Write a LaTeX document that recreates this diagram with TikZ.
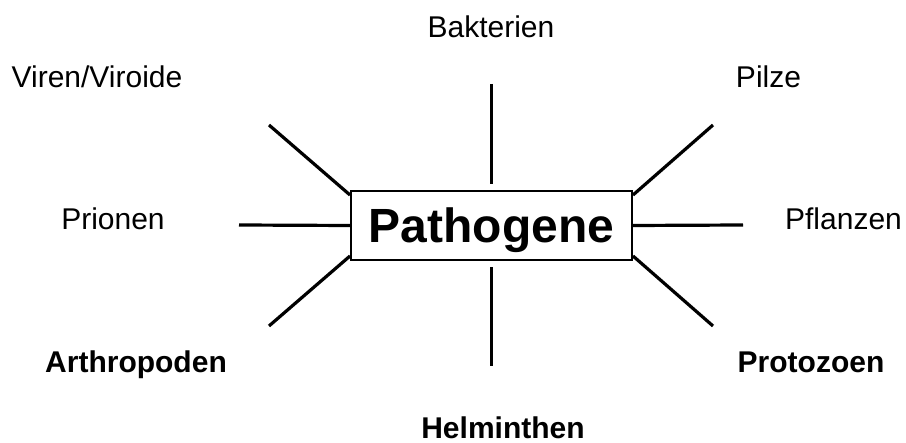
\documentclass[tikz,border=0pt]{standalone}
\usepackage{fontspec}
\setmainfont{Liberation Sans}
\begin{document}
\begin{tikzpicture}[x=0.5pt, y=-0.5pt,
    lbl/.style={inner sep=0pt, anchor=base, font=\fontsize{15}{18}\selectfont},
    blbl/.style={lbl, font=\fontsize{15}{18}\selectfont\bfseries},
    spoke/.style={line width=1.6pt}]
  \useasboundingbox (0,0) rectangle (906,443);

  % Mitte
  \node[draw, line width=1pt, minimum width=140.5pt, minimum height=34.5pt, inner sep=0pt,
        text height=17.5pt, text depth=0pt, font=\fontsize{24}{28}\selectfont\bfseries]
        (box) at (491.5,225.5) {Pathogene};

  % Beschriftungen
  \node[lbl] (bakt) at (491,38) {Bakterien};
  \node[lbl] (viren) at (97,88) {Viren/Viroide};
  \node[lbl] (pilze) at (768.5,88) {Pilze};
  \node[lbl] (prio) at (113,230) {Prionen};
  \node[lbl] (pflanz) at (843.5,230) {Pflanzen};
  \node[blbl] (arthro) at (136,373) {Arthropoden};
  \node[blbl] (proto) at (811,373) {Protozoen};
  \node[blbl] (helm) at (503,439) {Helminthen};

  % freie Enden der Strahlen
  \coordinate (s-bakt) at (491.5,84);
  \coordinate (s-helm) at (491.5,366);
  \coordinate (s-viren) at (269,125);
  \coordinate (s-pilze) at (713,125);
  \coordinate (s-prio) at (239,225);
  \coordinate (s-pflanz) at (743,225);
  \coordinate (s-arthro) at (269,326);
  \coordinate (s-proto) at (713,326);

  \draw[spoke] (s-bakt) -- ([yshift=3pt]box.north);
  \draw[spoke] (s-helm) -- ([yshift=-3pt]box.south);
  \draw[spoke] (s-prio) -- (box.west);
  \draw[spoke] (s-pflanz) -- (box.east);
  \draw[spoke] (s-viren) -- ([yshift=-2.5pt]box.north west);
  \draw[spoke] (s-pilze) -- ([yshift=-2.5pt]box.north east);
  \draw[spoke] (s-arthro) -- ([yshift=2.5pt]box.south west);
  \draw[spoke] (s-proto) -- ([yshift=2.5pt]box.south east);
\end{tikzpicture}
\end{document}
